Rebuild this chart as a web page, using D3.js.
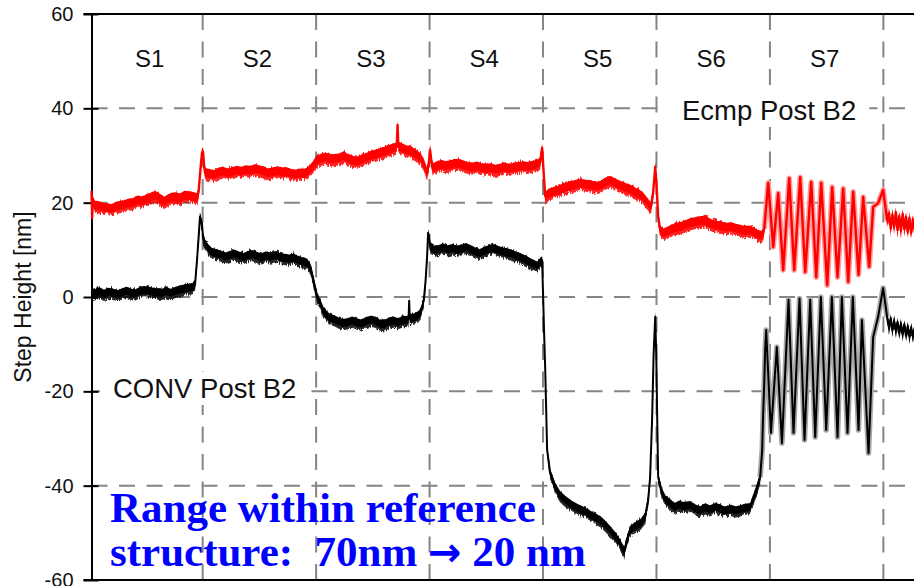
<!DOCTYPE html>
<html>
<head>
<meta charset="utf-8">
<script src="https://cdn.jsdelivr.net/npm/d3@7"></script>
<style>
  body { margin: 0; background: #fff; }
  svg { display: block; }
</style>
</head>
<body>
<svg id="chart" width="914" height="586"></svg>
<script>
// Scan position (arbitrary units, 100 per structure) and step height in nm
const xDomain = [2, 727];
const yDomain = [-60, 60];
const yTicks = [-60, -40, -20, 0, 20, 40, 60];
const yGrid = [-40, -20, 0, 20, 40];
const sectionBounds = [100, 200, 300, 400, 500, 600, 700];
const sectionLabels = ["S1", "S2", "S3", "S4", "S5", "S6", "S7"];
const firstSectionStart = 10;

// Ecmp Post B2 profile [position, height nm]
const ecmpPost = [
  [2, 22.5], [2.6, 16.8], [3.2, 20.5], [5, 19.5], [9, 19.3], [13, 19.0], [17, 18.9], [20, 18.8],
  [24, 19.3], [27, 19.4], [31, 19.6], [34, 19.9], [38, 20.0], [43, 20.6], [47, 20.4], [51, 20.9],
  [55, 21.3], [58, 21.6], [62, 21.0], [66, 20.3], [70, 20.9], [73, 21.2], [76, 21.2], [80, 21.0],
  [84, 21.6], [88, 21.5], [92, 21.3], [95, 21.0], [96.5, 22.5], [98, 27], [99.4, 30.5], [100.3, 30.8],
  [101.2, 28], [102.1, 26.4], [106, 26.2], [110, 26.0], [114, 26.5], [118, 26.7], [122, 26.3],
  [126, 26.6], [130, 26.9], [134, 26.7], [138, 27.0], [142, 26.9], [146, 27.2], [150, 27.0],
  [154, 26.7], [158, 26.3], [162, 26.6], [166, 26.8], [170, 26.5], [174, 26.6], [178, 26.2],
  [182, 26.1], [186, 26.3], [190, 26.2], [194, 26.9], [197, 27.8], [200, 28.9], [204, 29.4],
  [208, 29.7], [212, 29.3], [216, 29.4], [220, 29.5], [224, 29.9], [228, 29.4], [232, 29.0],
  [236, 28.8], [240, 29.2], [244, 29.6], [248, 30.0], [252, 30.3], [256, 30.6], [260, 30.9],
  [264, 31.3], [268, 31.6], [271, 31.8], [271.8, 36.5], [272.5, 31.9], [276, 31.6], [280, 31.2],
  [284, 30.9], [288, 30.3], [292, 29.6], [295, 28.3], [297.8, 26.3], [299.4, 28.5], [300.4, 31.2],
  [301.5, 29], [303, 27.4], [306, 27.8], [310, 28.1], [314, 27.9], [318, 28.0], [322, 28.3],
  [326, 28.4], [330, 28.0], [334, 27.7], [338, 27.6], [342, 27.8], [346, 27.4], [350, 27.3],
  [354, 27.4], [358, 27.1], [362, 27.3], [366, 27.6], [370, 27.3], [374, 27.5], [378, 27.7],
  [382, 27.8], [386, 27.7], [390, 27.9], [394, 28.1], [397.4, 28.6], [399.2, 31.6], [400.4, 27],
  [401.9, 21.4], [405, 22.0], [409, 22.4], [413, 22.6], [417, 23.0], [421, 23.4], [425, 23.6],
  [429, 23.9], [433, 24.1], [437, 24.0], [441, 23.8], [445, 23.6], [449, 23.5], [452, 23.9],
  [456, 24.5], [459, 24.8], [463, 24.3], [467, 23.8], [471, 23.4], [475, 23.0], [479, 22.6],
  [483, 22.0], [487, 21.5], [490, 20.7], [493, 19.8], [495, 19.1], [497, 22], [498.9, 27.6],
  [500, 24], [501.5, 17], [503.3, 14.2], [506, 13.6], [510, 14.0], [514, 14.5], [518, 14.8],
  [522, 15.0], [526, 15.4], [530, 15.8], [534, 16.0], [538, 16.2], [542, 16.3], [546, 15.8],
  [550, 15.4], [554, 15.2], [558, 15.0], [562, 14.8], [566, 14.9], [570, 14.6], [574, 14.4],
  [578, 14.1], [582, 14.2], [586, 13.8], [590, 13.2], [593, 13.1], [595, 14.5],
  [598.5, 24.2], [602.9, 10.6], [607.3, 22], [611.7, 5.7], [617, 25.2], [621.4, 5.7],
  [626.7, 25.4], [631.1, 5.3], [636.4, 24.4], [640.8, 4.2], [645.2, 24.2], [650.5, 2.5],
  [654.9, 23.3], [659.6, 4.2], [664.6, 23.0], [669, 3.2], [673.4, 22.3], [678.1, 4.7],
  [682.2, 21.2], [687.5, 6.4], [691, 19.1], [695.4, 19.9], [699.8, 22.7], [703.3, 16.3],
  [705, 17.8], [706.5, 14.5], [708, 17.5], [709.5, 14.8], [711, 18], [712.5, 14.2], [714, 17.2],
  [715.5, 14], [717, 17.6], [718.5, 14.4], [720, 17], [721.5, 13.8], [723, 16.8], [724.5, 13.6],
  [726, 16.5], [727, 14.5]
];

// CONV Post B2 profile [position, height nm]
const convPost = [
  [2, 1.0], [5, 0.8], [9, 1.2], [13, 0.7], [17, 1.1], [21, 0.9], [25, 0.6], [29, 1.0], [33, 1.3],
  [36, 1.0], [40, 0.7], [44, 1.2], [48, 1.5], [52, 1.4], [56, 1.1], [60, 1.0], [64, 0.9], [68, 1.2],
  [72, 0.9], [76, 1.3], [80, 1.6], [84, 1.8], [88, 2.0], [91, 2.1], [93.2, 2.5], [95, 7.8],
  [96.5, 13], [97.6, 17], [99.4, 15.5], [100.3, 12.7], [102.1, 11.4], [104.7, 10.4], [108, 9.6],
  [112, 9.3], [116, 9.0], [120, 8.6], [124, 8.9], [128, 9.2], [132, 8.8], [136, 8.5], [140, 8.9],
  [144, 9.1], [148, 8.7], [152, 8.4], [156, 8.8], [160, 8.6], [164, 8.9], [168, 8.5], [172, 8.3],
  [176, 8.1], [180, 8.4], [184, 7.9], [188, 7.6], [192, 7.3], [195, 6.2], [197.3, 4.0], [199.1, 2.0],
  [201, 0.0], [203.5, -1.2], [206, -2.8], [208, -3.5], [212, -4.4], [216, -4.7], [220, -5.2],
  [224, -5.5], [228, -5.3], [232, -5.0], [236, -5.4], [240, -5.6], [244, -5.1], [248, -4.8],
  [252, -5.0], [256, -5.6], [260, -5.8], [264, -5.2], [268, -5.0], [272, -5.3], [276, -5.0],
  [280, -4.8], [281.5, -4.7], [282, -0.8], [282.6, -4.6], [285, -4.4], [288, -4.2], [291, -3.6],
  [293, -2.6], [295, -0.5], [296.5, 3.5], [297.8, 8.5], [298.7, 13.6], [299.8, 12.0], [301, 10.5],
  [304, 10.0], [308, 10.2], [312, 10.5], [316, 10.1], [320, 10.4], [324, 10.0], [328, 10.3],
  [332, 10.6], [336, 10.2], [340, 9.7], [344, 9.3], [348, 9.8], [352, 10.1], [356, 10.4], [360, 10.0],
  [364, 9.7], [368, 9.5], [372, 9.2], [376, 8.8], [380, 8.5], [384, 8.0], [388, 7.5], [392, 7.0],
  [395, 6.7], [397.4, 7.4], [399.2, 7.8], [400.1, 0], [401, -8], [401.9, -15], [402.8, -24],
  [403.6, -32.4], [406.3, -37.3], [410.7, -40.2], [415, -42], [419.5, -43], [425, -44], [431, -44.8],
  [437, -45.5], [443, -46.3], [450.4, -47.3], [455, -48.3], [459.2, -49.4], [464, -50.8],
  [468, -52.2], [471.5, -54], [474, -51.5], [476.8, -49.4], [481, -48.6], [485.6, -48], [490, -46.6],
  [492.7, -43], [494.4, -38.2], [496.2, -25.4], [497.5, -12], [498.9, -4.2], [499.8, -12],
  [500.6, -25], [501.5, -38.2], [505, -41.6], [508, -43], [512.1, -43.7], [516, -44.5], [520, -44.0],
  [524, -44.3], [529.7, -44.1], [534, -44.8], [538.5, -45.2], [543, -44.6], [547, -45.0],
  [552, -44.5], [556.1, -44.8], [560, -45.3], [565, -44.9], [570, -45.2], [574, -45.0], [578, -44.7],
  [582.6, -44.5], [587, -41.6], [591.4, -38.2], [593.2, -32.4], [594, -25], [595, -18.2],
  [595.8, -11.2], [596.7, -7.0], [600.9, -28.8], [606.1, -10.6], [610.6, -31], [616.4, -0.6],
  [620.8, -28.8], [626.1, -0.3], [630.5, -30.3], [635.5, -0.6], [639.9, -29.7], [644.9, 0],
  [649.6, -28.2], [654.6, 0], [659.6, -29.7], [663.4, 0], [668.4, -28.8], [673.1, 0], [678.1, -28.2],
  [681.1, -4.9], [686.9, -33.1], [691, -8.5], [695.4, -4.2], [699.8, 1.9], [703.3, -4.2],
  [705, -6.5], [706.5, -4.5], [708, -7], [709.5, -5], [711, -7.2], [712.5, -5.3], [714, -7.5],
  [715.5, -5.6], [717, -7.8], [718.5, -5.8], [720, -8], [721.5, -6.2], [723, -8.2], [724.5, -6.5],
  [726, -8.4], [727, -7]
];

const series = [
  { name: "Ecmp Post B2", data: ecmpPost, color: "#ff0000", halo: "#ff9c9c",
    band: 4.4, thin: [596, 703], thinWidth: 2.4 },
  { name: "CONV Post B2", data: convPost, color: "#000000", halo: "#a8a8a8",
    band: 4.0, thin: [592, 703], thinWidth: 2.0 }
];

const svg = d3.select("#chart");
const x = d3.scaleLinear().domain(xDomain).range([91.5, 914]);
const y = d3.scaleLinear().domain(yDomain).range([580, 14]);
const sans = "'Liberation Sans', Arial, Helvetica, sans-serif";

// rough edge for the measurement noise band (vertical jitter only)
const defs = svg.append("defs");
const rough = defs.append("filter").attr("id", "noise-edge")
  .attr("color-interpolation-filters", "sRGB")
  .attr("filterUnits", "userSpaceOnUse")
  .attr("x", 0).attr("y", 0).attr("width", 914).attr("height", 586);
rough.append("feTurbulence").attr("type", "turbulence")
  .attr("baseFrequency", "0.45 0.03").attr("numOctaves", 1).attr("seed", 7).attr("result", "turb");
rough.append("feColorMatrix").attr("in", "turb").attr("type", "matrix")
  .attr("values", "0 0 0 0 0.5  0 1 0 0 0.1  0 0 0 0 0  0 0 0 0 1").attr("result", "disp");
rough.append("feDisplacementMap").attr("in", "SourceGraphic").attr("in2", "disp")
  .attr("scale", 7).attr("xChannelSelector", "R").attr("yChannelSelector", "G");

// dashed grid
const grid = svg.append("g")
  .attr("stroke", "#858585").attr("stroke-width", 2).attr("stroke-dasharray", "16,11.5");
grid.selectAll("line.h").data(yGrid).join("line").attr("class", "h")
  .attr("x1", x.range()[0]).attr("x2", x.range()[1])
  .attr("y1", d => y(d)).attr("y2", d => y(d));
grid.selectAll("line.v").data(sectionBounds).join("line").attr("class", "v")
  .attr("x1", d => x(d)).attr("x2", d => x(d))
  .attr("y1", y(yDomain[1])).attr("y2", y(yDomain[0]));

// frame lines top and bottom
svg.append("g").attr("stroke", "#000").attr("stroke-width", 2)
  .selectAll("line").data(yDomain).join("line")
  .attr("x1", x.range()[0] - 8).attr("x2", x.range()[1])
  .attr("y1", d => y(d)).attr("y2", d => y(d));

// y axis
const yAxis = svg.append("g")
  .attr("transform", `translate(${x.range()[0]},0)`)
  .call(d3.axisLeft(y).tickValues(yTicks).tickFormat(d => String(d))
    .tickSizeInner(8).tickSizeOuter(0).tickPadding(10));
yAxis.select(".domain").attr("stroke", "#000").attr("stroke-width", 2);
yAxis.selectAll(".tick line").attr("x1", 7).attr("stroke-width", 2);
yAxis.selectAll(".tick text").attr("font-family", sans).attr("font-size", 20).attr("fill", "#111");

svg.append("text")
  .attr("transform", `translate(31,${y(0)}) rotate(-90)`)
  .attr("text-anchor", "middle")
  .attr("font-family", sans).attr("font-size", 23).attr("fill", "#111")
  .text("Step Height [nm]");

// structure labels, centred in each structure
const starts = [firstSectionStart].concat(sectionBounds.slice(0, -1));
svg.append("g").selectAll("text").data(sectionLabels).join("text")
  .attr("x", (d, i) => x((starts[i] + sectionBounds[i]) / 2) - 2)
  .attr("y", 67)
  .attr("text-anchor", "middle")
  .attr("font-family", sans).attr("font-size", 24).attr("fill", "#111")
  .text(d => d);

// series labels on white boxes
function boxedLabel(text, px, py) {
  const g = svg.append("g");
  const t = g.append("text").attr("x", px).attr("y", py)
    .attr("font-family", sans).attr("font-size", 27.5).attr("fill", "#111").text(text);
  const b = t.node().getBBox();
  g.insert("rect", "text").attr("x", b.x - 13).attr("y", b.y - 1)
    .attr("width", b.width + 26).attr("height", b.height + 2).attr("fill", "#fff");
}
boxedLabel("Ecmp Post B2", 682, 120);
boxedLabel("CONV Post B2", 113, 398);

// profiles: vertical noise band plus centre trace
const traces = svg.append("g");
series.forEach(s => {
  const inThin = d => d[0] >= s.thin[0] && d[0] <= s.thin[1];
  const half = d => inThin(d) ? 0 : s.band;
  const bandArea = k => d3.area()
    .x(d => x(d[0]))
    .y0(d => y(d[1]) - half(d) * k)
    .y1(d => y(d[1]) + half(d) * k);
  // jagged outer fringe, then the solid core band
  traces.append("path").datum(s.data)
    .attr("d", bandArea(1.3)).attr("fill", s.color).attr("opacity", 0.85)
    .attr("filter", "url(#noise-edge)");
  traces.append("path").datum(s.data)
    .attr("d", bandArea(1)).attr("fill", s.color);
  const line = d3.line().x(d => x(d[0])).y(d => y(d[1]));
  // soft halo around the fast oscillations of S7
  traces.append("path").datum(s.data.filter(d => d[0] >= s.thin[0] - 2 && d[0] <= s.thin[1] + 1))
    .attr("d", line).attr("fill", "none").attr("stroke", s.halo)
    .attr("stroke-width", 5.5).attr("stroke-linejoin", "round");
  traces.append("path").datum(s.data)
    .attr("d", line).attr("fill", "none").attr("stroke", s.color)
    .attr("stroke-width", s.thinWidth).attr("stroke-linejoin", "round");
});

// annotation
const serif = "'Liberation Serif', 'Times New Roman', serif";
const note = svg.append("text")
  .attr("font-family", serif)
  .attr("font-weight", "bold").attr("font-size", 43).attr("fill", "#0000ff");
note.append("tspan").attr("x", 110).attr("y", 522).text("Range within reference");
const line2 = note.append("tspan").attr("x", 110).attr("y", 566);
line2.append("tspan").text("structure:\u00a0 70nm ");
line2.append("tspan").attr("font-family", "'DejaVu Sans', sans-serif").attr("font-size", 40).text("\u2192");
line2.append("tspan").text(" 20 nm");
</script>
</body>
</html>
